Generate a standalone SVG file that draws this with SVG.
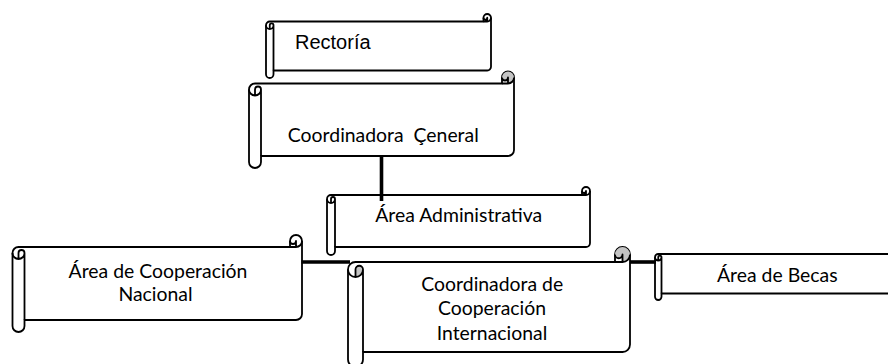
<svg xmlns="http://www.w3.org/2000/svg" width="888" height="364" viewBox="0 0 888 364">
<style>
.s{fill:#fff;stroke:#000;stroke-width:1.8;stroke-linejoin:round}
.l{fill:none;stroke:#000;stroke-width:1.8;stroke-linejoin:round}
.g{fill:#c4c4c4;stroke:none}
.t{font-family:Lato,"Open Sans",sans-serif;font-size:19.4px;fill:#000;text-anchor:middle}
.a{font-family:"Liberation Sans",Arial,sans-serif;font-size:20px;fill:#000}
.c{fill:none;stroke:#000;stroke-width:3.6}
</style>
<rect width="888" height="364" fill="#fff"/>
<g id="rectoria" transform="translate(266,14)">
<path class="s" d="M0,11.25 A3.75,3.75 0 0 1 3.75,7.5 L217.5,7.5 L217.5,3.75 A3.75,3.75 0 0 1 225,3.75 L225,52.75 A3.75,3.75 0 0 1 221.25,56.5 L7.5,56.5 L7.5,60.25 A3.75,3.75 0 0 1 0,60.25 Z"/>
<path class="l" d="M217.5,7.5 L221.25,7.5 A3.75,3.75 0 0 0 225,3.75 M221.25,7.5 L221.25,3.75 A1.875,1.875 0 0 1 217.5,3.75 M3.75,15 L3.75,11.25 A1.875,1.875 0 0 1 7.5,11.25 A3.75,3.75 0 0 1 0,11.25 M7.5,11.25 L7.5,56.5"/>
<text class="a" x="29" y="35.3">Rectoría</text>
</g>
<g id="coordinadora-general" transform="translate(249,71.5)">
<path class="s" d="M0,18 A6,6 0 0 1 6,12 L253,12 L253,6 A6,6 0 0 1 265,6 L265,78.5 A6,6 0 0 1 259,84.5 L12,84.5 L12,90.5 A6,6 0 0 1 0,90.5 Z"/>
<path class="g" d="M259,12 A6,6 0 1 0 253,6 A3,3 0 0 0 259,6 Z"/>
<path class="l" d="M253,12 L259,12 A6,6 0 0 0 265,6 M259,12 L259,6 A3,3 0 0 1 253,6 M6,24 L6,18 A3,3 0 0 1 12,18 A6,6 0 0 1 0,18 M12,18 L12,84.5"/>
<text class="t" x="134.3" y="70.2" xml:space="preserve">Coordinadora  Çeneral</text>
</g>
<g id="area-administrativa" transform="translate(327,187)">
<path class="s" d="M0,12 A4,4 0 0 1 4,8 L255,8 L255,4 A4,4 0 0 1 263,4 L263,56 A4,4 0 0 1 259,60 L8,60 L8,64 A4,4 0 0 1 0,64 Z"/>
<path class="l" d="M255,8 L259,8 A4,4 0 0 0 263,4 M259,8 L259,4 A2,2 0 0 1 255,4 M4,16 L4,12 A2,2 0 0 1 8,12 A4,4 0 0 1 0,12 M8,12 L8,60"/>
<text class="t" x="131.7" y="34.7">Área Administrativa</text>
</g>
<g id="area-cooperacion-nacional" transform="translate(12.5,235)">
<path class="s" d="M0,18 A6,6 0 0 1 6,12 L277.5,12 L277.5,6 A6,6 0 0 1 289.5,6 L289.5,79 A6,6 0 0 1 283.5,85 L12,85 L12,91 A6,6 0 0 1 0,91 Z"/>
<path class="l" d="M277.5,12 L283.5,12 A6,6 0 0 0 289.5,6 M283.5,12 L283.5,6 A3,3 0 0 1 277.5,6 M6,24 L6,18 A3,3 0 0 1 12,18 A6,6 0 0 1 0,18 M12,18 L12,85"/>
<text class="t" x="145.5" y="43.3">Área de Cooperación</text>
<text class="t" x="143" y="66">Nacional</text>
</g>
<g id="coordinadora-cooperacion-internacional" transform="translate(348,247)">
<path class="s" d="M0,22.5 A7.5,7.5 0 0 1 7.5,15 L267,15 L267,7.5 A7.5,7.5 0 0 1 282,7.5 L282,97.5 A7.5,7.5 0 0 1 274.5,105 L15,105 L15,112.5 A7.5,7.5 0 0 1 0,112.5 Z"/>
<path class="g" d="M274.5,15 A7.5,7.5 0 1 0 267,7.5 A3.75,3.75 0 0 0 274.5,7.5 Z M7.5,30 A7.5,7.5 0 0 0 15,22.5 A3.75,3.75 0 0 0 7.5,22.5 Z"/>
<path class="l" d="M267,15 L274.5,15 A7.5,7.5 0 0 0 282,7.5 M274.5,15 L274.5,7.5 A3.75,3.75 0 0 1 267,7.5 M7.5,30 L7.5,22.5 A3.75,3.75 0 0 1 15,22.5 A7.5,7.5 0 0 1 0,22.5 M15,22.5 L15,105"/>
<text class="t" x="144.3" y="43.5">Coordinadora de</text>
<text class="t" x="144" y="68">Cooperación</text>
<text class="t" x="144" y="93.3">Internacional</text>
</g>
<g id="area-becas" transform="translate(655,247.5)">
<path class="s" d="M0,9.75 A3.25,3.25 0 0 1 3.25,6.5 L253.5,6.5 L253.5,3.25 A3.25,3.25 0 0 1 260,3.25 L260,42.75 A3.25,3.25 0 0 1 256.75,46 L6.5,46 L6.5,49.25 A3.25,3.25 0 0 1 0,49.25 Z"/>
<path class="l" d="M253.5,6.5 L256.75,6.5 A3.25,3.25 0 0 0 260,3.25 M3.25,13 L3.25,9.75 A1.625,1.625 0 0 1 6.5,9.75 A3.25,3.25 0 0 1 0,9.75 M6.5,9.75 L6.5,46"/>
<text class="t" x="122.3" y="34.2">Área de Becas</text>
</g>
<g id="connectors">
<path class="c" d="M381.5,156 L381.5,201"/>
<path class="c" d="M301.5,262 L350,262"/>
<path class="c" d="M630,262 L656,262"/>
</g>
</svg>
